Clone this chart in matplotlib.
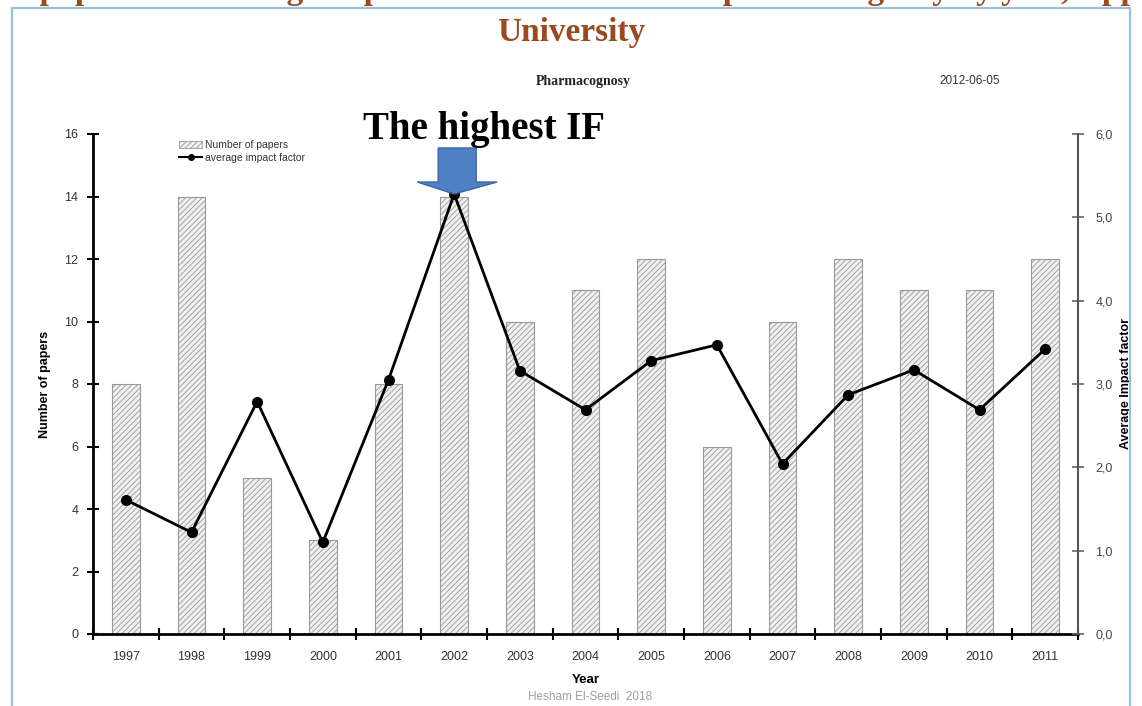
import matplotlib
matplotlib.use("Agg")
import matplotlib.pyplot as plt
from matplotlib.patches import Polygon, Rectangle
from matplotlib.lines import Line2D

years = ["1997", "1998", "1999", "2000", "2001", "2002", "2003", "2004",
         "2005", "2006", "2007", "2008", "2009", "2010", "2011"]
papers = [8, 14, 5, 3, 8, 14, 10, 11, 12, 6, 10, 12, 11, 11, 12]
impact = [1.61, 1.22, 2.79, 1.10, 3.05, 5.28, 3.16, 2.69,
          3.28, 3.47, 2.04, 2.87, 3.17, 2.69, 3.42]
left_ticks = [0, 2, 4, 6, 8, 10, 12, 14, 16]
right_ticks = [0, 1, 2, 3, 4, 5, 6]
right_labels = ["0,0", "1,0", "2,0", "3,0", "4,0", "5,0", "6,0"]

plt.rcParams["hatch.color"] = "#b4b4b4"
plt.rcParams["hatch.linewidth"] = 0.6
sans = ["Liberation Sans", "DejaVu Sans"]
serif = ["Liberation Serif", "DejaVu Serif"]
brown = "#9a4a1e"

W, H = 1142, 706
fig = plt.figure(figsize=(W / 100, H / 100), dpi=100)
fig.patch.set_facecolor("white")

# slide frame
fig.patches.append(Rectangle((12 / W, -0.05), (1130 - 12) / W, 1 - 8 / H + 0.05,
                             transform=fig.transFigure, fill=False,
                             edgecolor="#9cc0dc", linewidth=1.6))

ax = fig.add_axes([93 / W, 1 - 634 / H, (1078 - 93) / W, (634 - 134) / H])
x = list(range(len(years)))
ax.bar(x, papers, width=0.42, color="#f0f0f0", edgecolor="#999999",
       linewidth=0.8, hatch="//////", zorder=2)
ax.set_xlim(-0.5, len(years) - 0.5)
ax.set_ylim(0, 16)
ax.set_yticks(left_ticks)
ax.set_yticklabels([str(t) for t in left_ticks], family=sans, fontsize=9,
                   color="#333333")
ax.set_xticks([i + 0.5 for i in range(-1, len(years))], minor=False)
ax.set_xticklabels([])
ax.set_xticks(x, minor=True)
ax.set_xticklabels(years, minor=True, family=sans, fontsize=9, color="#333333")
ax.tick_params(axis="x", which="minor", length=0, pad=12)
ax.tick_params(axis="x", which="major", direction="inout", length=9, width=1.5)
ax.tick_params(axis="y", direction="inout", length=9, width=1.5, pad=6)
ax.spines["top"].set_visible(False)
ax.spines["right"].set_visible(False)
ax.spines["left"].set_linewidth(2)
ax.spines["bottom"].set_linewidth(2)
ax.set_ylabel("Number of papers", family=sans, fontsize=9, fontweight="bold",
              labelpad=10)
ax.set_xlabel("Year", family=sans, fontsize=9.5, fontweight="bold", labelpad=8)

ax2 = ax.twinx()
ax2.plot(x, impact, color="black", linewidth=2, marker="o", markersize=7,
         zorder=3)
ax2.set_ylim(0, 6)
ax2.set_yticks(right_ticks)
ax2.set_yticklabels(right_labels, family=sans, fontsize=9, color="#444444")
ax2.tick_params(axis="y", direction="inout", length=9, width=1.2, pad=8,
                color="#666666")
for s in ["top", "left", "bottom"]:
    ax2.spines[s].set_visible(False)
ax2.spines["right"].set_linewidth(1.5)
ax2.spines["right"].set_color("#555555")
ax2.set_ylabel("Average Impact factor", family=sans, fontsize=9,
               fontweight="bold", labelpad=5)

# arrow pointing at the highest impact factor
peak = impact.index(max(impact))
px, py = ax2.transData.transform((peak, impact[peak]))
inv = fig.transFigure.inverted()
shape_px = [(-16, 46), (22, 46), (22, 12), (43, 12), (0, 0),
            (-37, 12), (-16, 12)]
pts = [inv.transform((px + dx, py + dy)) for dx, dy in shape_px]
fig.patches.append(Polygon(pts, closed=True, transform=fig.transFigure,
                           facecolor="#4f81c4", edgecolor="#3a67a8",
                           linewidth=1, zorder=5))

# legend
handles = [Rectangle((0, 0), 1, 1, facecolor="#f0f0f0", edgecolor="#999999",
                     hatch="//////", linewidth=0.6),
           Line2D([], [], color="black", linewidth=1.5, marker="o",
                  markersize=4)]
leg = ax.legend(handles, ["Number of papers", "average impact factor"],
                loc="upper left", bbox_to_anchor=(80 / 985, 1.0),
                frameon=False, prop={"family": sans, "size": 7.5},
                handlelength=2.2, handletextpad=0.3, labelspacing=0.25,
                borderaxespad=0.2)
for t in leg.get_texts():
    t.set_color("#333333")

# header texts (first line runs past the slide edges)
fig.text(1195 / W, 1 + 10 / H,
         "Number of ISI papers and average impact factor in the field of pharmacognosy by year, Uppsala",
         ha="right", va="center", family=serif, fontsize=24,
         fontweight="bold", color=brown)
fig.text(571 / W, 1 - 32 / H, "University", ha="center", va="center",
         family=serif, fontsize=24, fontweight="bold", color=brown)
fig.text(583 / W, 1 - 81 / H, "Pharmacognosy", ha="center", va="center",
         family=serif, fontsize=10, fontweight="bold", color="#222222")
fig.text(970 / W, 1 - 81 / H, "2012-06-05", ha="center", va="center",
         family=sans, fontsize=8.5, color="#333333")
fig.text(484 / W, 1 - 130 / H, "The highest IF", ha="center", va="center",
         family=serif, fontsize=28, fontweight="bold", color="black",
         zorder=6)
fig.text(590 / W, 1 - 697 / H, "Hesham El-Seedi  2018", ha="center",
         va="center", family=sans, fontsize=8.5, color="#a0a0a0")

fig.savefig("out.png", dpi=100, facecolor="white")
